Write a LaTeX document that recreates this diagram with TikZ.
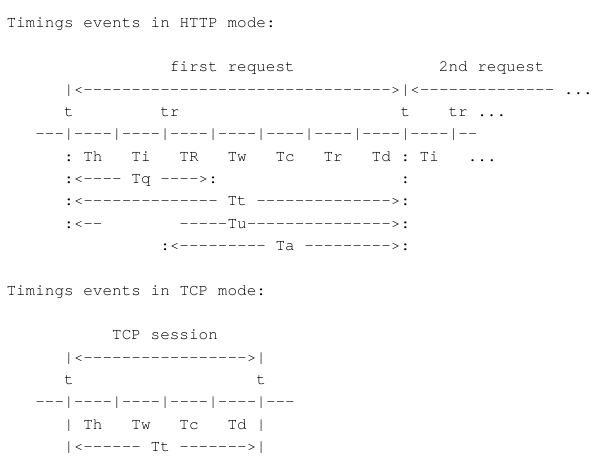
\documentclass[tikz,border=0pt]{standalone}
\usepackage{fontspec}
\setmonofont{texgyrecursor-regular.otf}[Ligatures={NoCommon,NoRare}]
\tikzset{
  asciitext/.style={anchor=base west, inner sep=0pt, outer sep=0pt,
    font=\ttfamily\frenchspacing\fontsize{16.02pt}{20pt}\selectfont}
}

\begin{document}
\begin{tikzpicture}[x=9.61pt, y=-22.35pt]
        \useasboundingbox (-6.5pt,27pt) rectangle (598.5pt,-439pt);

        % ---- HTTP mode ----
        \node[asciitext] (httptitle) at (0,0) {Timings events in HTTP mode:};
        \node[asciitext] (firstreq) at (17,2) {first request};
        \node[asciitext] (secondreq) at (45,2) {2nd request};
        \node[asciitext] (reqspan) at (6,3) {|<-------------------------------->|<-------------- ...};
        \node[asciitext] (tfirst) at (6,4) {t};
        \node[asciitext] (trfirst) at (16,4) {tr};
        \node[asciitext] (tsecond) at (41,4) {t};
        \node[asciitext] (trsecond) at (46,4) {tr ...};
        \node[asciitext] (httpticks) at (3,5) {---|----|----|----|----|----|----|----|----|--};

        % event names, one every 5 columns
        \node[asciitext] (httpleft) at (6,6) {:};
        \foreach \ev [count=\i from 0] in {Th,Ti,TR,Tw,Tc,Tr,Td} {
            \node[asciitext] (http-\ev) at (8+5*\i,6) {\ev};
        }
        \node[asciitext] (httpright) at (41,6) {:};
        \node[asciitext] (nextti) at (43,6) {Ti};
        \node[asciitext] (nextdots) at (48,6) {...};

        % durations
        \node[asciitext] (tq) at (6,7) {:<---- Tq ---->:};
        \node[asciitext] (tqend) at (41,7) {:};
        \node[asciitext] (tt) at (6,8) {:<-------------- Tt -------------->:};
        \node[asciitext] (tuleft) at (6,9) {:<--};
        \node[asciitext] (turight) at (18,9) {-----Tu--------------->:};
        \node[asciitext] (ta) at (16,10) {:<--------- Ta --------->:};

        % ---- TCP mode ----
        \node[asciitext] (tcptitle) at (0,12) {Timings events in TCP mode:};
        \node[asciitext] (tcpsession) at (11,14) {TCP session};
        \node[asciitext] (tcpspan) at (6,15) {|<----------------->|};
        \node[asciitext] (tcpstart) at (6,16) {t};
        \node[asciitext] (tcpend) at (26,16) {t};
        \node[asciitext] (tcpticks) at (3,17) {---|----|----|----|----|---};
        \node[asciitext] (tcpleft) at (6,18) {|};
        \foreach \ev [count=\i from 0] in {Th,Tw,Tc,Td} {
            \node[asciitext] (tcp-\ev) at (8+5*\i,18) {\ev};
        }
        \node[asciitext] (tcpright) at (26,18) {|};
        \node[asciitext] (tcptt) at (6,19) {|<------ Tt ------->|};
    \end{tikzpicture}
\end{document}
